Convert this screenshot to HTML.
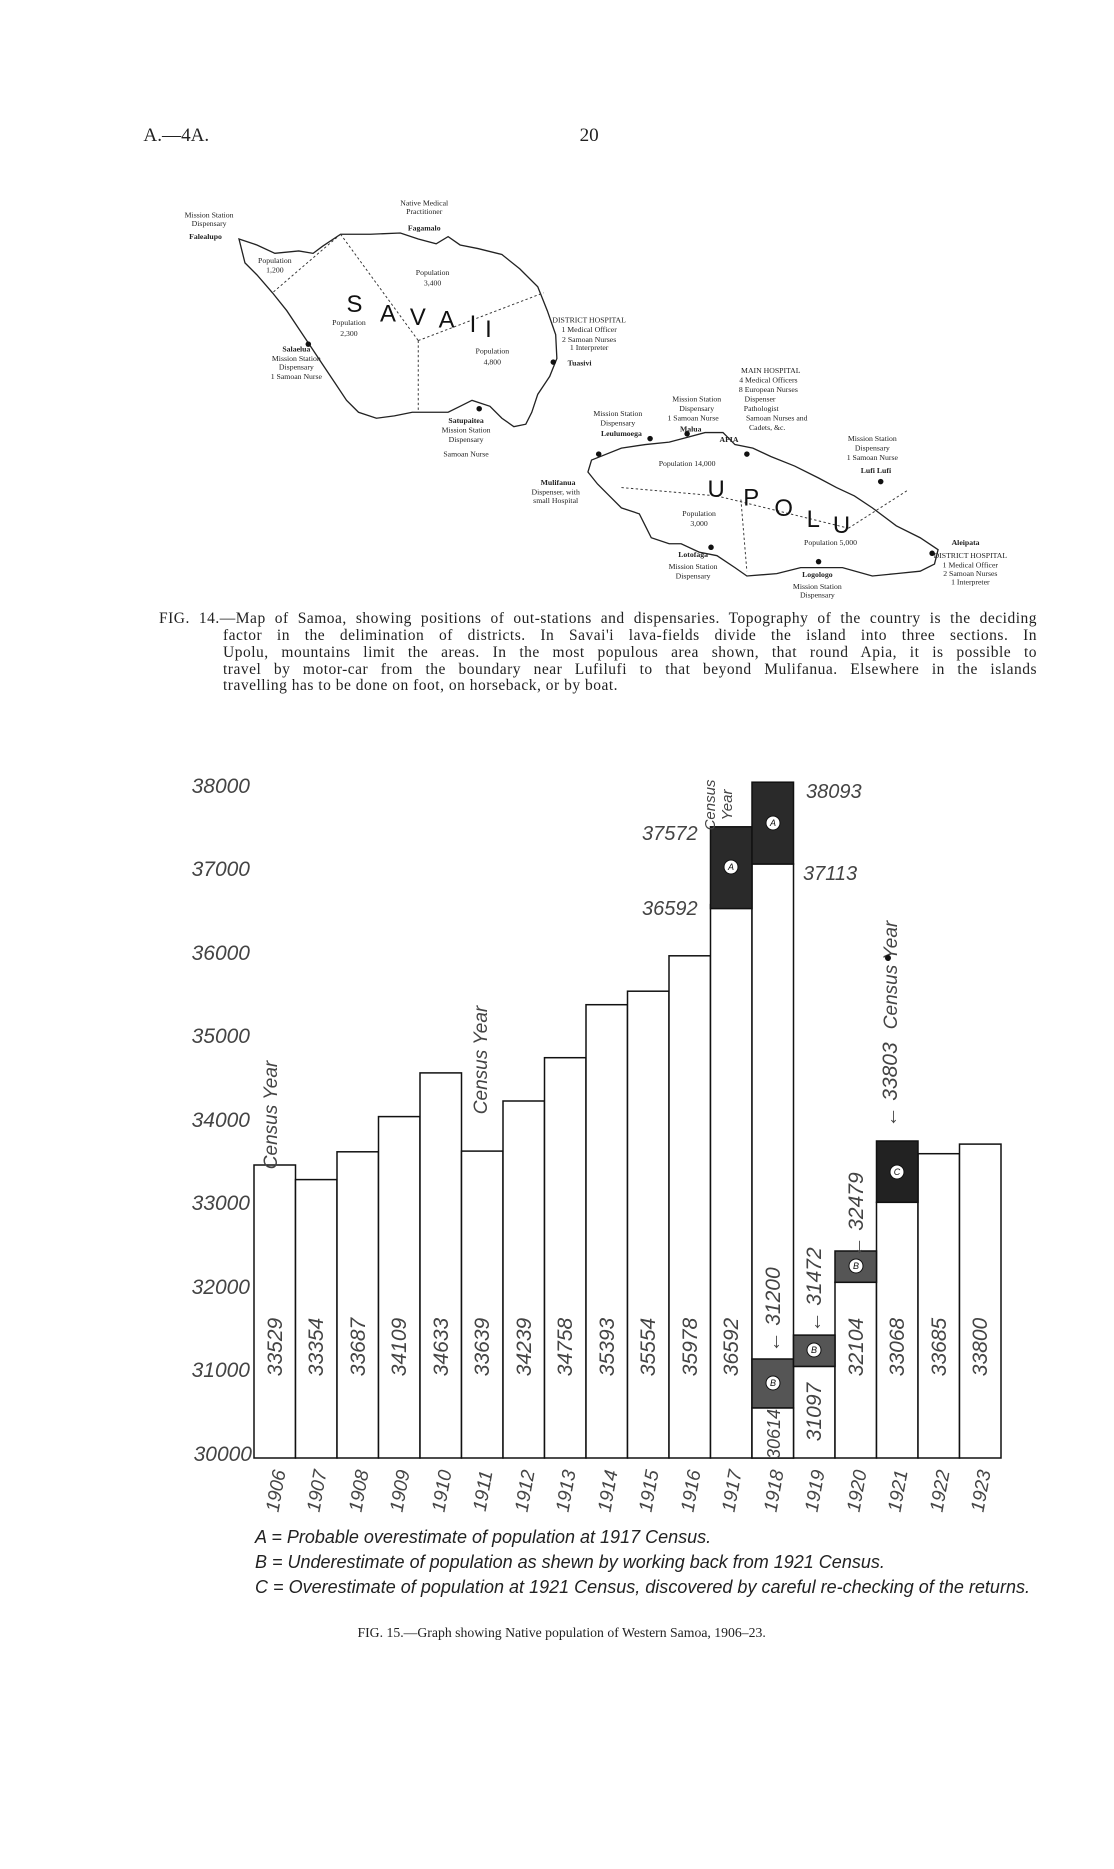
<!DOCTYPE html>
<html><head><meta charset="utf-8"><style>
html,body{margin:0;padding:0;background:#fff}
body{width:1114px;height:1869px;position:relative;overflow:hidden;font-family:"Liberation Serif",serif;color:#222}
.cap{position:absolute;font-size:15.5px;line-height:16.8px;text-align:justify;text-align-last:justify;white-space:nowrap;letter-spacing:0.5px}
.ln{display:block;text-align:justify;text-align-last:justify;white-space:normal}
svg{position:absolute;left:0;top:0}
</style></head><body>
<svg width="1114" height="1869" viewBox="0 0 1114 1869" xmlns="http://www.w3.org/2000/svg">
<g transform="scale(1.195)" font-family="Liberation Serif, serif" fill="#222">
<text x="120" y="118" font-size="16">A.—4A.</text>
<text x="485" y="118" font-size="16">20</text>
<path d="M200,200 L215,205 230,212 250,210 262,212 270,206 285,196 310,196 335,195 350,200 365,204 375,198 385,205 400,208 420,213 435,225 450,240 458,260 465,280 466,300 460,315 450,330 445,345 440,355 430,357 420,350 410,340 395,335 385,340 375,345 360,345 345,345 330,348 315,350 300,345 290,335 280,320 270,305 260,290 250,275 240,260 228,245 215,230 205,220 Z" fill="none" stroke="#222" stroke-width="1.1"/>
<g fill="none" stroke="#333" stroke-width="0.8" stroke-dasharray="2,2">
<path d="M285,196 L350,285 M350,285 L455,245 M350,285 L350,345 M285,196 L228,245"/>
<path d="M520,408 L600,415 710,442 M620,418 L625,478 M710,442 L760,410"/>
</g>
<path d="M495,385 L520,375 540,372 560,370 575,366 590,362 605,362 615,372 630,375 645,382 665,390 685,400 700,408 715,415 730,425 750,440 770,450 785,460 782,472 770,478 750,480 730,482 705,475 685,475 670,475 650,480 625,482 615,475 600,465 585,462 570,455 560,455 545,450 540,440 535,430 520,425 510,415 500,405 492,395 Z" fill="none" stroke="#222" stroke-width="1.1"/>
<g fill="#111"><circle cx="258" cy="288" r="2.3"/><circle cx="463" cy="303" r="2.3"/><circle cx="401" cy="342" r="2.3"/><circle cx="501" cy="380" r="2.3"/><circle cx="544" cy="367" r="2.3"/><circle cx="575" cy="363" r="2.3"/><circle cx="625" cy="380" r="2.3"/><circle cx="737" cy="403" r="2.3"/><circle cx="780" cy="463" r="2.3"/><circle cx="595" cy="458" r="2.3"/><circle cx="685" cy="470" r="2.3"/></g>
<g font-size="6.5" text-anchor="middle">
<text x="355" y="172">Native Medical</text><text x="355" y="179">Practitioner</text><text x="355" y="193" font-weight="bold">Fagamalo</text>
<text x="175" y="182">Mission Station</text><text x="175" y="189">Dispensary</text><text x="172" y="200" font-weight="bold">Falealupo</text>
<text x="230" y="220">Population</text><text x="230" y="228">1,200</text>
<text x="362" y="230">Population</text><text x="362" y="239">3,400</text>
<text x="292" y="272">Population</text><text x="292" y="281">2,300</text>
<text x="412" y="296">Population</text><text x="412" y="305">4,800</text>
<text x="493" y="270">DISTRICT HOSPITAL</text><text x="493" y="278">1 Medical Officer</text><text x="493" y="286">2 Samoan Nurses</text><text x="493" y="293">1 Interpreter</text><text x="485" y="306" font-weight="bold">Tuasivi</text>
<text x="248" y="294" font-weight="bold">Salaelua</text><text x="248" y="302">Mission Station</text><text x="248" y="309">Dispensary</text><text x="248" y="317">1 Samoan Nurse</text>
<text x="390" y="354" font-weight="bold">Satupaitea</text><text x="390" y="362">Mission Station</text><text x="390" y="370">Dispensary</text><text x="390" y="382">Samoan Nurse</text>
<text x="645" y="312">MAIN HOSPITAL</text><text x="643" y="320">4 Medical Officers</text><text x="643" y="328">8 European Nurses</text><text x="636" y="336">Dispenser</text><text x="637" y="344">Pathologist</text><text x="650" y="352">Samoan Nurses and</text><text x="642" y="360">Cadets, &amp;c.</text>
<text x="610" y="370" font-weight="bold">APIA</text>
<text x="583" y="336">Mission Station</text><text x="583" y="344">Dispensary</text><text x="580" y="352">1 Samoan Nurse</text><text x="578" y="361" font-weight="bold">Malua</text>
<text x="517" y="348">Mission Station</text><text x="517" y="356">Dispensary</text><text x="520" y="365" font-weight="bold">Leulumoega</text>
<text x="467" y="406" font-weight="bold">Mulifanua</text><text x="465" y="414">Dispenser, with</text><text x="465" y="421">small Hospital</text>
<text x="730" y="369">Mission Station</text><text x="730" y="377">Dispensary</text><text x="730" y="385">1 Samoan Nurse</text><text x="733" y="396" font-weight="bold">Lufi Lufi</text>
<text x="575" y="390">Population 14,000</text>
<text x="585" y="432">Population</text><text x="585" y="440">3,000</text>
<text x="695" y="456">Population   5,000</text>
<text x="808" y="456" font-weight="bold">Aleipata</text><text x="812" y="467">DISTRICT HOSPITAL</text><text x="812" y="475">1 Medical Officer</text><text x="812" y="482">2 Samoan Nurses</text><text x="812" y="489">1 Interpreter</text>
<text x="580" y="466" font-weight="bold">Lotofaga</text><text x="580" y="476">Mission Station</text><text x="580" y="484">Dispensary</text>
<text x="684" y="483" font-weight="bold">Logologo</text><text x="684" y="493">Mission Station</text><text x="684" y="500">Dispensary</text>
</g>
<g font-family="Liberation Sans, sans-serif" font-size="20" fill="#111">
<text x="290" y="261">S</text><text x="318" y="269">A</text><text x="343" y="272">V</text><text x="367" y="274">A</text><text x="393" y="278">I</text><text x="406" y="282">I</text>
<text x="592" y="416">U</text><text x="622" y="423">P</text><text x="648" y="432">O</text><text x="675" y="441">L</text><text x="697" y="446">U</text>
</g>
<text x="470" y="1370" font-size="11.5" text-anchor="middle">FIG. 15.—Graph showing Native population of Western Samoa, 1906–23.</text>
</g>

<g stroke="#111" stroke-width="1.5" fill="#fff">
<rect x="254" y="1165.0" width="41.5" height="293.0"/>
<rect x="295.5" y="1179.6" width="41.5" height="278.4"/>
<rect x="337" y="1151.8" width="41.5" height="306.2"/>
<rect x="378.5" y="1116.6" width="41.5" height="341.4"/>
<rect x="420" y="1072.9" width="41.5" height="385.1"/>
<rect x="461.5" y="1151.1" width="41.5" height="306.9"/>
<rect x="503" y="1101.0" width="41.5" height="357.0"/>
<rect x="544.5" y="1057.7" width="41.5" height="400.3"/>
<rect x="586" y="1004.7" width="41.5" height="453.3"/>
<rect x="627.5" y="991.2" width="41.5" height="466.8"/>
<rect x="669" y="955.8" width="41.5" height="502.2"/>
<rect x="710.5" y="904.6" width="41.5" height="553.4"/>
<rect x="752" y="864.0" width="41.5" height="594"/>
<rect x="793.5" y="1366.4" width="41.5" height="91.6"/>
<rect x="835" y="1282.3" width="41.5" height="175.7"/>
<rect x="876.5" y="1202.3" width="41.5" height="255.7"/>
<rect x="918" y="1153.7" width="41.5" height="304.3"/>
<rect x="959.5" y="1144.1" width="41.5" height="313.9"/>
</g>
<g stroke="#111" stroke-width="1.5">
<rect x="710.5" y="826.8" width="41.5" height="81.8" fill="#2a2a2a"/>
<rect x="752" y="782.2" width="41.5" height="81.8" fill="#2a2a2a"/>
<rect x="752" y="1359" width="41.5" height="49" fill="#555"/>
<rect x="752" y="1408" width="41.5" height="50" fill="#fff"/>
<rect x="793.5" y="1335.1" width="41.5" height="31.3" fill="#555"/>
<rect x="835" y="1251.0" width="41.5" height="31.3" fill="#555"/>
<rect x="876.5" y="1141.0" width="41.5" height="61.3" fill="#222"/>
</g>
<g fill="#fff" stroke="#111" stroke-width="1"><circle cx="731" cy="867" r="7"/><circle cx="773" cy="823" r="7"/><circle cx="773" cy="1383" r="7"/><circle cx="814" cy="1350" r="7"/><circle cx="856" cy="1266" r="7"/><circle cx="897" cy="1172" r="7"/></g>
<g font-family="Liberation Sans, sans-serif" font-size="9" font-style="italic" text-anchor="middle" fill="#111"><text x="731" y="870">A</text><text x="773" y="826">A</text><text x="773" y="1386">B</text><text x="814" y="1353">B</text><text x="856" y="1269">B</text><text x="897" y="1175">C</text></g>

<g font-family="Liberation Sans, sans-serif" font-style="italic" fill="#444">
<g font-size="21" text-anchor="end">
<text x="250" y="793">38000</text><text x="250" y="876">37000</text><text x="250" y="960">36000</text><text x="250" y="1043">35000</text><text x="250" y="1127">34000</text><text x="250" y="1210">33000</text><text x="250" y="1294">32000</text><text x="250" y="1377">31000</text><text x="252" y="1461">30000</text>
</g>
<g font-size="21" text-anchor="middle">
<text transform="translate(282,1347) rotate(-90)">33529</text>
<text transform="translate(323,1347) rotate(-90)">33354</text>
<text transform="translate(365,1347) rotate(-90)">33687</text>
<text transform="translate(406,1347) rotate(-90)">34109</text>
<text transform="translate(448,1347) rotate(-90)">34633</text>
<text transform="translate(489,1347) rotate(-90)">33639</text>
<text transform="translate(531,1347) rotate(-90)">34239</text>
<text transform="translate(572,1347) rotate(-90)">34758</text>
<text transform="translate(614,1347) rotate(-90)">35393</text>
<text transform="translate(655,1347) rotate(-90)">35554</text>
<text transform="translate(697,1347) rotate(-90)">35978</text>
<text transform="translate(738,1347) rotate(-90)">36592</text>
<text transform="translate(780,1434) rotate(-90)" font-size="18">30614</text>
<text transform="translate(821,1412) rotate(-90)">31097</text>
<text transform="translate(863,1347) rotate(-90)">32104</text>
<text transform="translate(904,1347) rotate(-90)">33068</text>
<text transform="translate(946,1347) rotate(-90)">33685</text>
<text transform="translate(987,1347) rotate(-90)">33800</text>
<text transform="translate(780,1310) rotate(-90)">← 31200</text>
<text transform="translate(821,1290) rotate(-90)">← 31472</text>
<text transform="translate(863,1215) rotate(-90)">← 32479</text>
<text transform="translate(897,1085) rotate(-90)">← 33803</text>
<text transform="translate(897,975) rotate(-90)" font-size="19">Census Year</text>
<text transform="translate(277,1115) rotate(-90)" font-size="19">Census Year</text>
<text transform="translate(487,1060) rotate(-90)" font-size="19">Census Year</text>
<text transform="translate(715,805) rotate(-90)" font-size="15">Census</text>
<text transform="translate(732,805) rotate(-90)" font-size="15">Year</text>
</g>
<circle cx="888" cy="958" r="3" fill="#111"/>
<g font-size="20">
<text x="642" y="840">37572</text><text x="642" y="915">36592</text><text x="806" y="798">38093</text><text x="803" y="880">37113</text>
</g>
<g font-size="19" text-anchor="middle">
<text transform="translate(282,1492) rotate(-80)">1906</text>
<text transform="translate(323,1492) rotate(-80)">1907</text>
<text transform="translate(365,1492) rotate(-80)">1908</text>
<text transform="translate(406,1492) rotate(-80)">1909</text>
<text transform="translate(448,1492) rotate(-80)">1910</text>
<text transform="translate(489,1492) rotate(-80)">1911</text>
<text transform="translate(531,1492) rotate(-80)">1912</text>
<text transform="translate(572,1492) rotate(-80)">1913</text>
<text transform="translate(614,1492) rotate(-80)">1914</text>
<text transform="translate(655,1492) rotate(-80)">1915</text>
<text transform="translate(697,1492) rotate(-80)">1916</text>
<text transform="translate(738,1492) rotate(-80)">1917</text>
<text transform="translate(780,1492) rotate(-80)">1918</text>
<text transform="translate(821,1492) rotate(-80)">1919</text>
<text transform="translate(863,1492) rotate(-80)">1920</text>
<text transform="translate(904,1492) rotate(-80)">1921</text>
<text transform="translate(946,1492) rotate(-80)">1922</text>
<text transform="translate(987,1492) rotate(-80)">1923</text>
</g>
<g font-size="18" fill="#222">
<text x="255" y="1543">A = Probable overestimate of population at 1917 Census.</text>
<text x="255" y="1568">B = Underestimate of population as shewn by working back from 1921 Census.</text>
<text x="255" y="1593" textLength="775">C = Overestimate of population at 1921 Census, discovered by careful re-checking of the returns.</text>
</g>
</g>
</svg>
<div class="cap" style="left:159px;top:611px;width:878px"><span class="ln">FIG. 14.—Map of Samoa, showing positions of out-stations and dispensaries. Topography of the country is the deciding</span></div>
<div class="cap" style="left:223px;top:628px;width:814px">
<span class="ln">factor in the delimination of districts. In Savai'i lava-fields divide the island into three sections. In</span>
<span class="ln">Upolu, mountains limit the areas. In the most populous area shown, that round Apia, it is possible to</span>
<span class="ln">travel by motor-car from the boundary near Lufilufi to that beyond Mulifanua. Elsewhere in the islands</span>
<span class="ln" style="text-align-last:left">travelling has to be done on foot, on horseback, or by boat.</span>
</div>
</body></html>
